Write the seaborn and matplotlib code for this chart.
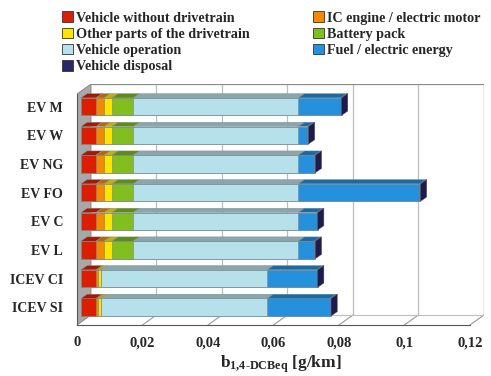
import matplotlib
matplotlib.use("Agg")
import matplotlib.pyplot as plt
from matplotlib.patches import Patch
import seaborn as sns
import pandas as pd
import numpy as np

# ---------------------------------------------------------------------------
# data (g/km)
# ---------------------------------------------------------------------------
vehicles = ["EV M", "EV W", "EV NG", "EV FO", "EV C", "EV L", "ICEV CI", "ICEV SI"]
without_drivetrain = [0.0046, 0.0046, 0.0046, 0.0046, 0.0046, 0.0046, 0.0046, 0.0046]
ic_engine_motor = [0.0025, 0.0025, 0.0025, 0.0025, 0.0025, 0.0025, 0.0005, 0.0005]
other_drivetrain = [0.0024, 0.0024, 0.0024, 0.0024, 0.0024, 0.0024, 0.0010, 0.0010]
battery_pack = [0.0065, 0.0065, 0.0065, 0.0065, 0.0065, 0.0065, 0.0, 0.0]
vehicle_operation = [0.0504, 0.0504, 0.0504, 0.0504, 0.0504, 0.0504, 0.0508, 0.0508]
fuel_energy = [0.0129, 0.0027, 0.0049, 0.0370, 0.0056, 0.0048, 0.0151, 0.0191]
vehicle_disposal = [0.0003, 0.0004, 0.0003, 0.0003, 0.0003, 0.0004, 0.0003, 0.0004]

segments = ["Vehicle without drivetrain", "IC engine / electric motor",
            "Other parts of the drivetrain", "Battery pack", "Vehicle operation",
            "Fuel / electric energy", "Vehicle disposal"]
seg_values = [without_drivetrain, ic_engine_motor, other_drivetrain, battery_pack,
              vehicle_operation, fuel_energy, vehicle_disposal]
seg_colors = ["#dc1e00", "#f28a00", "#ffe400", "#82be1e", "#b7e1ea", "#2590dc", "#2b2868"]
seg_tops = ["#a81700", "#b86800", "#c4ae00", "#5f8c14", "#8aa6ad", "#1b6aa3", "#1e1c4c"]

x_ticks = [0, 0.02, 0.04, 0.06, 0.08, 0.1, 0.12]
x_ticklabels = ["0", "0,02", "0,04", "0,06", "0,08", "0,1", "0,12"]

df = pd.DataFrame({"vehicle": vehicles})
for name, vals in zip(segments, seg_values):
    df[name] = vals
cum = df[segments].cumsum(axis=1)
for name in segments:
    df["cum " + name] = cum[name]

# ---------------------------------------------------------------------------
# figure
# ---------------------------------------------------------------------------
sns.set_style("white")
plt.rcParams["font.family"] = ["Liberation Serif", "DejaVu Serif"]
plt.rcParams["font.weight"] = "bold"
plt.rcParams["mathtext.fontset"] = "custom"
plt.rcParams["mathtext.rm"] = "Liberation Serif:bold"
plt.rcParams["mathtext.it"] = "Liberation Serif:bold"
plt.rcParams["mathtext.bf"] = "Liberation Serif:bold"

fig = plt.figure(figsize=(4.91, 3.76), dpi=100)
ax = fig.add_axes([77 / 491, 51 / 376, 407 / 491, 241 / 376])

xmax = 0.1243
ytop, ybot = -0.79, 7.62
wall_dx, wall_dy = 0.00427, 0.35     # depth of the back wall
bar_dx, bar_dy = 0.0019, 0.15        # depth of the bars
bar_h = 0.61
x0 = 0.0012                          # bars sit a little behind the front plane

# walls and grid
ax.fill([0, 0, wall_dx, wall_dx], [ybot, ytop + wall_dy, ytop, ybot - wall_dy],
        color="#a8a8a8", ec="#808080", lw=0.6, zorder=0)
for v in x_ticks[1:]:
    ax.plot([v + wall_dx, v + wall_dx], [ytop, ybot - wall_dy], color="#bdbdbd", lw=0.9, zorder=0)
    ax.plot([v, v + wall_dx], [ybot, ybot - wall_dy], color="#9a9a9a", lw=0.8, zorder=0)
ax.plot([wall_dx, xmax, xmax], [ytop, ytop, ybot - wall_dy], color="#8a8a8a", lw=0.9, zorder=0)
ax.plot([wall_dx, xmax], [ybot - wall_dy, ybot - wall_dy], color="#bdbdbd", lw=0.8, zorder=0)

# stacked bars: draw cumulative totals from the largest down
for name, color in reversed(list(zip(segments, seg_colors))):
    sns.barplot(data=df, x="cum " + name, y="vehicle", orient="h", color=color,
                saturation=1, width=bar_h, edgecolor="#7f8f96", linewidth=0.5,
                ax=ax, zorder=2)
for p in ax.patches:
    if hasattr(p, "get_x") and p.get_zorder() == 2:
        p.set_x(p.get_x() + x0)

# 3d top faces and end caps, computed from the data
for i in range(len(vehicles)):
    top = i - bar_h / 2
    left = x0
    for j, name in enumerate(segments):
        right = df.loc[i, "cum " + name] + x0
        if right - left > 0:
            ax.fill([left, right, right + bar_dx, left + bar_dx],
                    [top, top, top - bar_dy, top - bar_dy],
                    color=seg_tops[j], ec="#7f8f96", lw=0.3, zorder=3)
        left = right
    ax.fill([left, left + bar_dx, left + bar_dx, left],
            [top, top - bar_dy, top + bar_h - bar_dy, top + bar_h],
            color=seg_tops[-1], ec="#555555", lw=0.3, zorder=3)

ax.set_xlim(0, xmax)
ax.set_ylim(ybot, ytop)
for s in ["top", "right"]:
    ax.spines[s].set_visible(False)
ax.spines["left"].set_bounds(ybot, ytop + wall_dy)
ax.spines["bottom"].set_bounds(0, 0.12)
for s in ["left", "bottom"]:
    ax.spines[s].set_color("#555555")
    ax.spines[s].set_linewidth(0.8)

ax.set_xticks(x_ticks)
ax.set_xticklabels(x_ticklabels, fontsize=10.5, fontweight="bold")
ax.set_yticks(range(len(vehicles)))
ax.set_yticklabels(vehicles, fontsize=10, fontweight="bold")
ax.set_yticks(np.arange(-0.5, len(vehicles), 1.0), minor=True)
ax.tick_params(axis="y", which="major", length=0, pad=10)
ax.tick_params(axis="y", which="minor", length=4, direction="out", color="#333333")
ax.tick_params(axis="x", length=4, direction="out", color="#333333", pad=4)
ax.set_ylabel("")
ax.set_xlabel(r"b$_{\mathrm{1{,}4\text{-}DCBeq}}$ [g/km]", fontsize=12.5,
              fontweight="bold", labelpad=3)

handles = [Patch(facecolor=c, edgecolor="#333333", linewidth=0.6) for c in seg_colors]
order = [0, 2, 4, 6, 1, 3, 5]
fig.legend([handles[k] for k in order], [segments[k] for k in order], ncol=2,
           loc="upper left", bbox_to_anchor=(52 / 491, 1.0 - 1.5 / 376), frameon=False,
           handlelength=0.75, handleheight=0.75, handletextpad=0.25,
           labelspacing=0.22, columnspacing=4.45, borderaxespad=0.3,
           prop={"weight": "bold", "size": 10.2})

fig.savefig("out.png", dpi=100)
